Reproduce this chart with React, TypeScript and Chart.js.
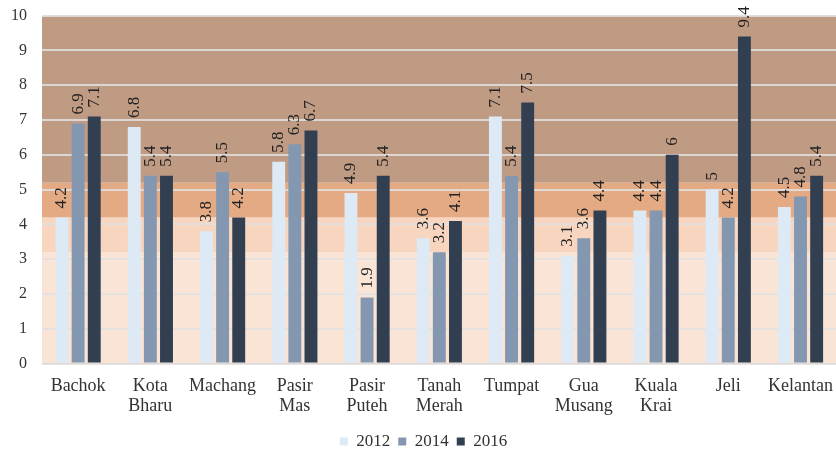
import React, { useEffect, useRef } from "react";
import { Chart, registerables } from "chart.js";
Chart.register(...registerables);

const categories = [["Bachok"], ["Kota", "Bharu"], ["Machang"], ["Pasir", "Mas"], ["Pasir", "Puteh"], ["Tanah", "Merah"], ["Tumpat"], ["Gua", "Musang"], ["Kuala", "Krai"], ["Jeli"], ["Kelantan"]];
const s2012 = [4.2, 6.8, 3.8, 5.8, 4.9, 3.6, 7.1, 3.1, 4.4, 5, 4.5];
const s2014 = [6.9, 5.4, 5.5, 6.3, 1.9, 3.2, 5.4, 3.6, 4.4, 4.2, 4.8];
const s2016 = [7.1, 5.4, 4.2, 6.7, 5.4, 4.1, 7.5, 4.4, 6, 9.4, 5.4];
const seriesNames = ["2012", "2014", "2016"];
const bands = [
  { from: 0, to: 3.2, color: "#fae4d6" },
  { from: 3.2, to: 4.2, color: "#f7d5be" },
  { from: 4.2, to: 5.2, color: "#e4aa84" },
  { from: 5.2, to: 10, color: "#c09b84" },
];

const FONT = "'Liberation Serif', 'Times New Roman', serif";

const bandsPlugin = {
  id: "bands",
  beforeDraw(chart: any) {
    const { ctx, chartArea, scales } = chart;
    const y = scales.y;
    ctx.save();
    for (const b of bands) {
      const top = y.getPixelForValue(b.to);
      const bot = y.getPixelForValue(b.from);
      ctx.fillStyle = b.color;
      ctx.fillRect(chartArea.left, top, chartArea.right - chartArea.left, bot - top);
    }
    ctx.restore();
  },
};

const labelPlugin = {
  id: "vlabels",
  afterDatasetsDraw(chart: any) {
    const { ctx } = chart;
    ctx.save();
    ctx.font = `17px ${FONT}`;
    ctx.fillStyle = "#222";
    ctx.textAlign = "left";
    ctx.textBaseline = "middle";
    chart.data.datasets.forEach((ds: any, i: number) => {
      const meta = chart.getDatasetMeta(i);
      meta.data.forEach((bar: any, j: number) => {
        ctx.save();
        ctx.translate(bar.x, bar.y - 9);
        ctx.rotate(-Math.PI / 2);
        ctx.fillText(String(ds.data[j]), 0, 0);
        ctx.restore();
      });
    });
    ctx.restore();
  },
};

export default function App() {
  const ref = useRef<HTMLCanvasElement>(null);
  useEffect(() => {
    const chart = new Chart(ref.current!, {
      type: "bar",
      data: {
        labels: categories,
        datasets: [
          { label: seriesNames[0], data: s2012, backgroundColor: "#dde9f5" },
          { label: seriesNames[1], data: s2014, backgroundColor: "#8497b0" },
          { label: seriesNames[2], data: s2016, backgroundColor: "#323f50" },
        ],
      },
      options: {
        animation: false,
        responsive: false,
        maintainAspectRatio: false,
        layout: { padding: { top: 0, right: 0, left: 10, bottom: 0 } },
        datasets: { bar: { categoryPercentage: 0.67, barPercentage: 0.8 } },
        plugins: {
          legend: {
            position: "bottom",
            labels: { font: { family: FONT, size: 17 }, color: "#333", boxWidth: 8, boxHeight: 8, padding: 8 },
          },
          tooltip: { enabled: false },
        },
        scales: {
          x: {
            afterFit(scale: any) { scale.height += 4; },
            grid: { display: false },
            border: { color: "#d9d9d9" },
            ticks: { font: { family: FONT, size: 18, lineHeight: 1.15 }, color: "#333", maxRotation: 0, autoSkip: false, padding: 4 },
          },
          y: {
            min: 0,
            max: 10,
            afterFit(scale: any) { scale.width = 32; },
            grid: { color: "rgba(225,225,225,0.85)", lineWidth: 2, drawTicks: false },
            border: { display: false },
            ticks: { stepSize: 1, font: { family: FONT, size: 16 }, color: "#333", padding: 15 },
          },
        },
      },
      plugins: [bandsPlugin, labelPlugin],
    });
    return () => chart.destroy();
  }, []);
  return (
    <div style={{ position: "absolute", left: 0, top: 0, width: 837, height: 453, overflow: "hidden" }}>
      <canvas ref={ref} width={837} height={469} style={{ display: "block", position: "absolute", left: 0, top: -9 }} />
    </div>
  );
}
